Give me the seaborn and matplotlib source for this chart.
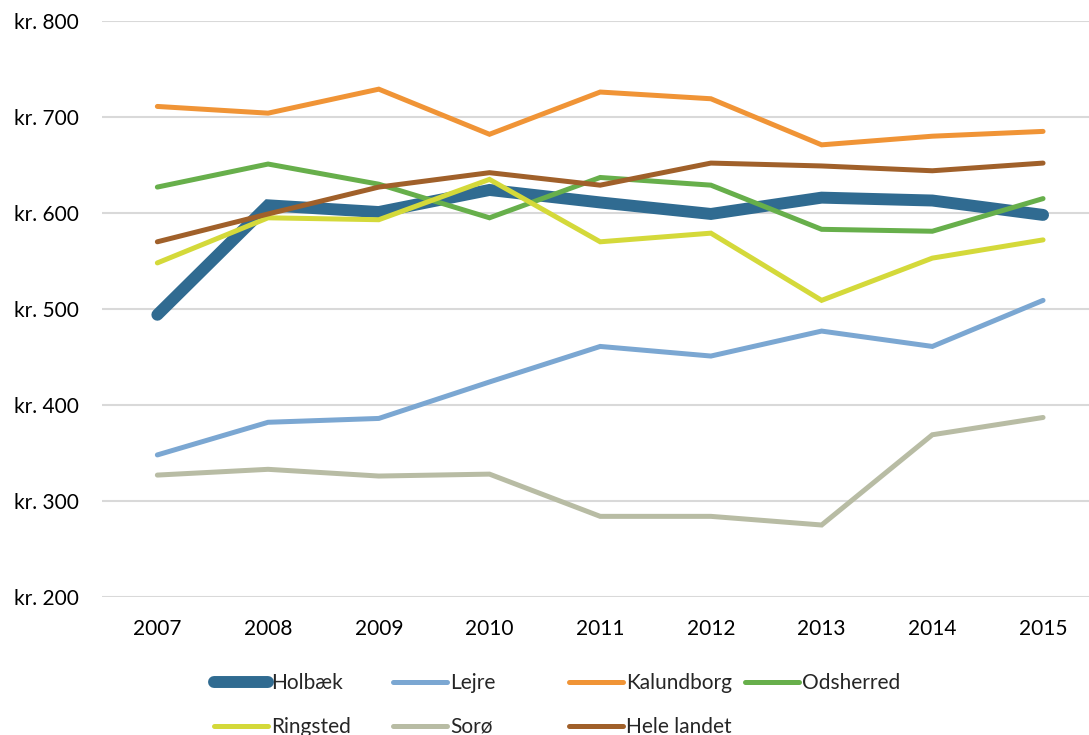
import pandas as pd
import matplotlib
matplotlib.use('Agg')
import matplotlib.pyplot as plt
import seaborn as sns
from matplotlib.lines import Line2D

# Data (kr. per year)
years = ["2007", "2008", "2009", "2010", "2011", "2012", "2013", "2014", "2015"]
holbaek = [494, 608, 601, 624, 611, 599, 616, 613, 598]
lejre = [348, 382, 386, 424, 461, 451, 477, 461, 509]
kalundborg = [711, 704, 729, 682, 726, 719, 671, 680, 685]
odsherred = [627, 651, 630, 595, 637, 629, 583, 581, 615]
ringsted = [548, 595, 593, 635, 570, 579, 509, 553, 572]
soroe = [327, 333, 326, 328, 284, 284, 275, 369, 387]
hele_landet = [570, 599, 627, 642, 629, 652, 649, 644, 652]

series_names = ["Holbæk", "Lejre", "Kalundborg", "Odsherred", "Ringsted", "Sorø", "Hele landet"]
series_values = [holbaek, lejre, kalundborg, odsherred, ringsted, soroe, hele_landet]
colors = ["#306B91", "#7BA7D2", "#F09436", "#67AF4B", "#D4D93A", "#B8BCA4", "#A0602A"]
widths = [8.6, 3.6, 3.6, 3.6, 3.6, 3.6, 3.6]
y_ticks = [200, 300, 400, 500, 600, 700, 800]

rows = []
for name, vals in zip(series_names, series_values):
    for i, (yr, v) in enumerate(zip(years, vals)):
        rows.append({"pos": i, "year": yr, "kommune": name, "value": v})
df = pd.DataFrame(rows)

sns.set_theme(style="white")
plt.rcParams['font.family'] = ['Lato', 'DejaVu Sans']

fig = plt.figure(figsize=(10.89, 7.35), dpi=100)
ax = fig.add_axes([102 / 1089, 1 - 597 / 735, (1098.4 - 102) / 1089, (597 - 21) / 735])

for name, col, lw in zip(series_names, colors, widths):
    sub = df[df["kommune"] == name]
    sns.lineplot(data=sub, x="pos", y="value", color=col, linewidth=lw, ax=ax,
                 solid_capstyle="round", solid_joinstyle="miter", legend=False)

ax.set_xlim(-0.5, len(years) - 0.5)
ax.set_ylim(200, 800)
ax.set_xticks(range(len(years)))
ax.set_xticklabels(years)
ax.set_yticks(y_ticks)
ax.set_yticklabels([f"kr. {v}" for v in y_ticks])
ax.set_xlabel("")
ax.set_ylabel("")
ax.tick_params(axis="both", length=0, labelsize=15, colors="black")
ax.tick_params(axis="y", pad=17)
ax.tick_params(axis="x", pad=16)
ax.yaxis.grid(True, color="#D9D9D9", linewidth=1.5)
ax.set_axisbelow(True)
for s in ax.spines.values():
    s.set_visible(False)

# legend: 4 columns, filled row-wise like the original
handles = [Line2D([0], [0], color=c, lw=w, solid_capstyle="round") for c, w in zip(colors, widths)]
col_x = [214, 393, 569, 745]
for ci, x in enumerate(col_x):
    idx = [i for i in (ci, ci + 4) if i < len(series_names)]
    fig.legend([handles[i] for i in idx], [series_names[i] for i in idx],
               loc="upper left", bbox_to_anchor=(x / 1089, 1 - 673 / 735),
               frameon=False, fontsize=15, handlelength=2.6, handletextpad=0.15,
               borderpad=0, borderaxespad=0, labelspacing=1.15)

fig.savefig("out.png", dpi=100)
